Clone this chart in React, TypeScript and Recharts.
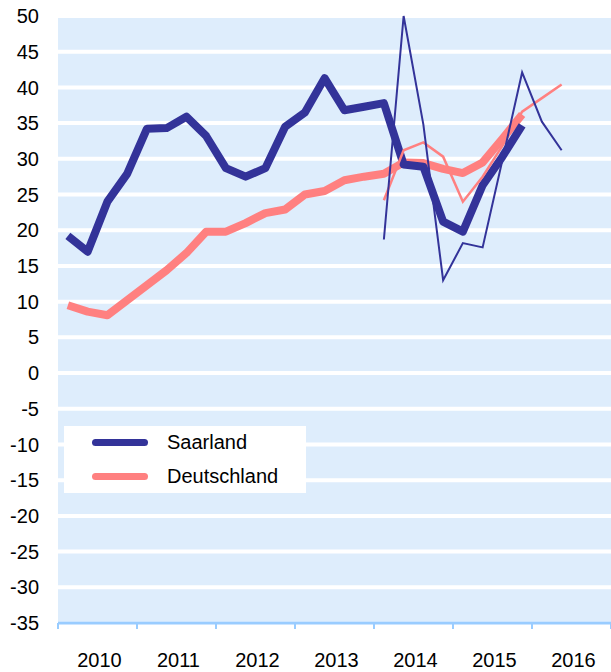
import * as React from "react";
import {
  LineChart,
  Line,
  XAxis,
  YAxis,
  CartesianGrid,
  Legend,
} from "recharts";

// quarterly values, 2010 Q1 .. 2016 Q4
const years = ["2010", "2011", "2012", "2013", "2014", "2015", "2016"];
const quartersPerYear = 4;

// thick lines: trend, 2010 Q1 .. 2015 Q4
const saarlandTrend = [
  19.2, 17.0, 24.0, 27.9, 34.2, 34.3, 35.9, 33.2, 28.7, 27.5, 28.7, 34.5,
  36.5, 41.3, 36.8, 37.3, 37.8, 29.2, 28.9, 21.2, 19.8, 26.3, 30.3, 34.7,
];
const deutschlandTrend = [
  9.5, 8.6, 8.1, 10.2, 12.3, 14.4, 16.8, 19.8, 19.8, 21.0, 22.4, 22.9,
  25.0, 25.5, 27.0, 27.5, 27.9, 29.5, 29.4, 28.6, 28.0, 29.5, 32.8, 36.2,
];

// thin lines: quarterly values, 2014 Q1 .. 2016 Q2
const quarterlyStart = 16;
const saarlandQuarterly = [18.7, 50.0, 34.8, 13.0, 18.2, 17.6, 29.8, 42.1, 35.2, 31.2];
const deutschlandQuarterly = [24.2, 31.2, 32.3, 30.3, 24.0, 27.5, 31.8, 36.6, 38.5, 40.4];

const yTicks = [-35, -30, -25, -20, -15, -10, -5, 0, 5, 10, 15, 20, 25, 30, 35, 40, 45, 50];
const legendOrder = ["Saarland", "Deutschland"];

const quarterCount = years.length * quartersPerYear;

const data = Array.from({ length: quarterCount }, (_, i) => {
  const q = i - quarterlyStart;
  return {
    i,
    saarland: saarlandTrend[i] ?? null,
    deutschland: deutschlandTrend[i] ?? null,
    saarlandQ: q >= 0 ? saarlandQuarterly[q] ?? null : null,
    deutschlandQ: q >= 0 ? deutschlandQuarterly[q] ?? null : null,
  };
});

// year boundaries get a tick mark, year middles get the label
const boundaryTicks = years.map((_, k) => k * quartersPerYear - 0.5).concat(quarterCount - 0.5);
const labelTicks = years.map((_, k) => k * quartersPerYear + 1.5);
const xTicks = [...boundaryTicks, ...labelTicks].sort((a, b) => a - b);

const FONT = "'Liberation Sans', Arial, sans-serif";
const FONT_SIZE = 20;
const BLUE = "#333399";
const PINK = "#FF8080";
const AXIS = "#99CCFF";

const XTick = (props: any) => {
  const { x, y, payload } = props;
  const v = payload.value as number;
  const k = labelTicks.indexOf(v);
  if (k >= 0) {
    return (
      <text x={x + 2} y={y + 44} textAnchor="middle" fontSize={FONT_SIZE} fontFamily={FONT} fill="#000">
        {years[k]}
      </text>
    );
  }
  return <line x1={x} y1={y} x2={x} y2={y + 6} stroke={AXIS} strokeWidth={2} />;
};

const renderLegend = (props: any) => {
  const entries = legendOrder
    .map((name) => (props.payload || []).find((p: any) => p.value === name))
    .filter(Boolean);
  return (
    <div style={{ width: 242, height: 67, background: "#fff", fontFamily: FONT }}>
      {entries.map((entry: any, index: number) => (
        <div key={`item-${index}`} style={{ display: "flex", alignItems: "center", height: 33.5 }}>
          <span
            style={{
              display: "inline-block",
              marginLeft: 28,
              width: 56,
              height: 7,
              borderRadius: 4,
              backgroundColor: entry.color,
            }}
          />
          <span style={{ marginLeft: 19, fontSize: FONT_SIZE, color: "#000" }}>{entry.value}</span>
        </div>
      ))}
    </div>
  );
};

export default function App() {
  return (
    <div style={{ position: "absolute", left: 0, top: 0 }}>
      <LineChart
        width={611}
        height={672}
        data={data}
        margin={{ top: 16, right: 0, left: 0, bottom: 0 }}
      >
        <CartesianGrid
          vertical={false}
          stroke="#ffffff"
          strokeWidth={4}
          fill="#DEEDFC"
          fillOpacity={1}
        />
        <XAxis
          type="number"
          dataKey="i"
          domain={[-0.5, quarterCount - 0.5]}
          ticks={xTicks}
          interval={0}
          height={49}
          tickSize={0}
          tickMargin={0}
          tickLine={false}
          axisLine={{ stroke: AXIS, strokeWidth: 3 }}
          tick={<XTick />}
        />
        <YAxis
          width={58}
          domain={[-35, 50]}
          ticks={yTicks}
          interval={0}
          axisLine={false}
          tickLine={false}
          tickSize={0}
          tickMargin={19}
          tick={{ fontSize: FONT_SIZE, fill: "#000", fontFamily: FONT }}
        />
        <Line
          dataKey="deutschland"
          name="Deutschland"
          stroke={PINK}
          strokeWidth={8}
          strokeLinejoin="round"
          dot={false}
          activeDot={false}
          isAnimationActive={false}
        />
        <Line
          dataKey="saarland"
          name="Saarland"
          stroke={BLUE}
          strokeWidth={8}
          strokeLinejoin="round"
          dot={false}
          activeDot={false}
          isAnimationActive={false}
        />
        <Line
          dataKey="deutschlandQ"
          name="deutschlandQ"
          stroke={PINK}
          strokeWidth={2.5}
          dot={false}
          activeDot={false}
          legendType="none"
          isAnimationActive={false}
        />
        <Line
          dataKey="saarlandQ"
          name="saarlandQ"
          stroke={BLUE}
          strokeWidth={2}
          dot={false}
          activeDot={false}
          legendType="none"
          isAnimationActive={false}
        />
        <Legend
          layout="horizontal"
          verticalAlign="middle"
          align="center"
          wrapperStyle={{ left: 64, top: 426, width: 242, height: 67 }}
          content={renderLegend}
        />
      </LineChart>
    </div>
  );
}
